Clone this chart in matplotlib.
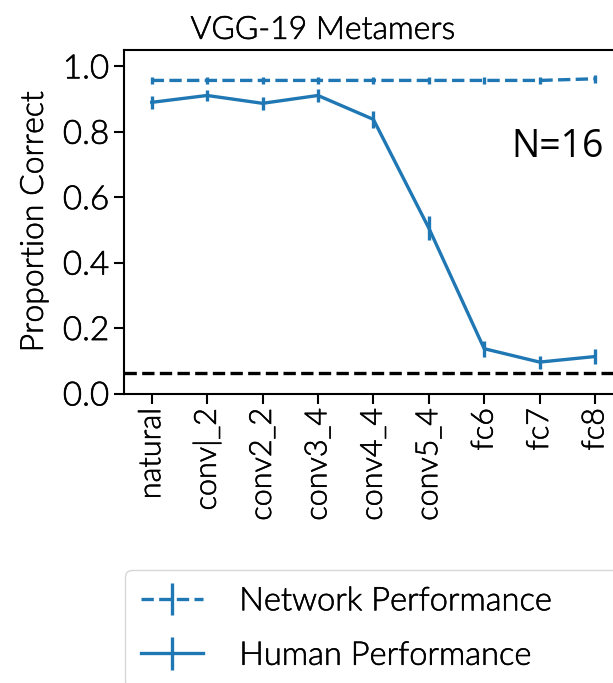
import matplotlib
matplotlib.use("Agg")
import matplotlib.pyplot as plt
import matplotlib.patheffects as pe
from matplotlib import font_manager

layers = ["natural", "conv1_2", "conv2_2", "conv3_4", "conv4_4", "conv5_4", "fc6", "fc7", "fc8"]
tick_labels = ["natural", "conv|_2", "conv2_2", "conv3_4", "conv4_4", "conv5_4", "fc6", "fc7", "fc8"]
network_perf = [0.957, 0.957, 0.957, 0.957, 0.957, 0.957, 0.957, 0.957, 0.962]
network_err = [0.011, 0.011, 0.010, 0.011, 0.010, 0.011, 0.010, 0.011, 0.012]
human_perf = [0.890, 0.911, 0.887, 0.911, 0.838, 0.506, 0.137, 0.096, 0.113]
human_err = [0.020, 0.018, 0.019, 0.019, 0.025, 0.038, 0.025, 0.020, 0.023]
chance = 1 / 16
n_subjects = 16

names = {f.name for f in font_manager.fontManager.ttflist}
main_font = "Lato" if "Lato" in names else "DejaVu Sans"
plt.rcParams["font.family"] = [main_font, "DejaVu Sans"]
plt.rcParams["font.weight"] = 300
plt.rcParams["axes.titleweight"] = 300
plt.rcParams["axes.labelweight"] = 300
dark = [pe.withStroke(linewidth=0.4, foreground="black")]

color = "#1f77b4"
fig = plt.figure(figsize=(6.13, 6.83), dpi=100)
ax_left, ax_w = 124, 498.7
ax = fig.add_axes([ax_left / 613, 1 - 393.5 / 683, ax_w / 613, 343.5 / 683])

x = list(range(len(layers)))
ax.errorbar(x, network_perf, yerr=network_err, color=color, linestyle="--",
            linewidth=2.4, elinewidth=2.4, capsize=0, label="Network Performance")
ax.errorbar(x, human_perf, yerr=human_err, color=color, linestyle="-",
            linewidth=2.4, elinewidth=2.4, capsize=0, label="Human Performance")
ax.axhline(chance, color="black", linestyle="--", linewidth=2.4)

ax.set_xlim(-0.5, len(layers) - 0.5)
ax.set_ylim(0, 1.05)
ax.set_yticks([0, 0.2, 0.4, 0.6, 0.8, 1.0])
ax.set_yticklabels(["0.0", "0.2", "0.4", "0.6", "0.8", "1.0"], fontsize=24, fontweight=300)
ax.set_xticks(x)
ax.set_xticklabels(tick_labels, rotation=90, fontsize=22, fontweight=300)
ax.tick_params(length=7, width=1.5)
for s in ax.spines.values():
    s.set_linewidth(1.5)
ax.set_ylabel("Proportion Correct", fontsize=23, fontweight=300, labelpad=10)
ax.set_title("VGG-19 Metamers", fontsize=23, fontweight=300, x=(323 - ax_left) / ax_w, pad=8)

ax.text(604, 683 - 147, f"N={n_subjects}", transform=None, fontsize=27, fontweight="normal",
        family=["Open Sans", "DejaVu Sans"], ha="right", va="center")

handles, labels = ax.get_legend_handles_labels()
leg = fig.legend(handles, labels, loc="upper left",
                 bbox_to_anchor=(125 / 613, 1 - 570 / 683, 0.86, 0.0), mode="expand",
                 bbox_transform=fig.transFigure, borderaxespad=0,
                 prop={"size": 23.5, "weight": 300}, handlelength=1.9, labelspacing=0.75,
                 handletextpad=1.1, borderpad=0.5)

for t in (ax.get_yticklabels() + ax.get_xticklabels() + [ax.yaxis.label, ax.title] + leg.get_texts()):
    t.set_path_effects(dark)

fig.savefig("out.png", dpi=100)
